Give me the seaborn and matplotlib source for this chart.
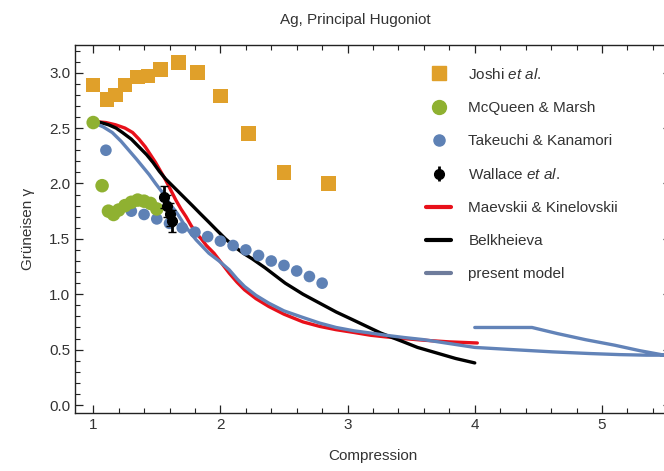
import numpy as np
import pandas as pd
import matplotlib
matplotlib.use("Agg")
import matplotlib.pyplot as plt
import seaborn as sns
from matplotlib.ticker import MultipleLocator, FormatStrFormatter
from matplotlib.lines import Line2D

# ---- data ----
joshi_x = [1.00, 1.11, 1.175, 1.25, 1.35, 1.43, 1.53, 1.67, 1.82, 2.00, 2.22, 2.50, 2.85]
joshi_y = [2.89, 2.76, 2.80, 2.89, 2.96, 2.97, 3.03, 3.09, 3.00, 2.79, 2.45, 2.10, 2.00]

mcq_x = [1.00, 1.07, 1.12, 1.16, 1.20, 1.25, 1.30, 1.35, 1.40, 1.45, 1.50]
mcq_y = [2.55, 1.98, 1.75, 1.72, 1.76, 1.80, 1.83, 1.85, 1.84, 1.82, 1.77]

tak_x = [1.10, 1.20, 1.30, 1.40, 1.50, 1.60, 1.70, 1.80, 1.90, 2.00, 2.10, 2.20, 2.30, 2.40, 2.50, 2.60, 2.70, 2.80]
tak_y = [2.30, 1.76, 1.75, 1.72, 1.68, 1.64, 1.60, 1.56, 1.52, 1.48, 1.44, 1.40, 1.35, 1.30, 1.26, 1.21, 1.16, 1.10]

wal_x = [1.56, 1.58, 1.60, 1.62]
wal_y = [1.88, 1.80, 1.72, 1.66]
wal_err = [0.10, 0.10, 0.10, 0.10]

maev_x = [1.00, 1.10, 1.175, 1.25, 1.31, 1.36, 1.41, 1.45, 1.49, 1.53, 1.57, 1.61, 1.65, 1.69, 1.73,
          1.77, 1.81, 1.85, 1.89, 1.95, 2.01, 2.07, 2.13, 2.19, 2.28, 2.38, 2.50, 2.65, 2.78, 2.91,
          3.05, 3.18, 3.30, 3.44, 3.60, 3.80, 4.02]
maev_y = [2.56, 2.55, 2.53, 2.50, 2.46, 2.40, 2.33, 2.26, 2.19, 2.11, 2.03, 1.94, 1.85, 1.77, 1.70,
          1.62, 1.55, 1.50, 1.44, 1.37, 1.28, 1.19, 1.11, 1.04, 0.96, 0.89, 0.82, 0.75, 0.71, 0.68,
          0.655, 0.63, 0.615, 0.60, 0.585, 0.57, 0.56]

belk_x = [1.00, 1.06, 1.12, 1.18, 1.23, 1.30, 1.36, 1.42, 1.47, 1.52, 1.57, 1.64, 1.71, 1.78, 1.84,
          1.91, 1.97, 2.04, 2.11, 2.18, 2.25, 2.35, 2.51, 2.65, 2.78, 2.91, 3.04, 3.15, 3.26, 3.44,
          3.55, 3.70, 3.85, 4.00]
belk_y = [2.56, 2.55, 2.53, 2.50, 2.46, 2.40, 2.33, 2.26, 2.19, 2.11, 2.04, 1.96, 1.88, 1.80, 1.73,
          1.65, 1.58, 1.50, 1.43, 1.37, 1.32, 1.24, 1.10, 1.00, 0.92, 0.84, 0.77, 0.71, 0.65, 0.57,
          0.52, 0.47, 0.42, 0.38]

model_x = [1.00, 1.08, 1.15, 1.22, 1.28, 1.34, 1.39, 1.44, 1.49, 1.55, 1.60, 1.66, 1.71, 1.76, 1.81,
           1.86, 1.91, 1.99, 2.07, 2.13, 2.19, 2.28, 2.38, 2.50, 2.65, 2.78, 2.91, 3.05, 3.18, 3.30,
           3.44, 3.60, 3.80, 4.00, 4.30, 4.61, 4.90, 5.14, 5.35, 5.49,
           5.30, 5.10, 4.87, 4.65, 4.45, 4.20, 4.00]
model_y = [2.55, 2.51, 2.46, 2.38, 2.30, 2.22, 2.15, 2.08, 2.00, 1.91, 1.82, 1.73, 1.64, 1.56, 1.49,
           1.43, 1.37, 1.30, 1.22, 1.14, 1.07, 0.99, 0.92, 0.85, 0.79, 0.74, 0.70, 0.67, 0.65, 0.63,
           0.61, 0.59, 0.555, 0.52, 0.50, 0.48, 0.465, 0.455, 0.45, 0.45,
           0.49, 0.54, 0.59, 0.645, 0.70, 0.70, 0.70]

labels = ["Joshi $\\mathit{et\\ al.}$", "McQueen & Marsh", "Takeuchi & Kanamori",
          "Wallace $\\mathit{et\\ al.}$", "Maevskii & Kinelovskii", "Belkheieva", "present model"]

# ---- style ----
sns.set_theme(style="white")
plt.rcParams["font.family"] = ["Liberation Sans", "DejaVu Sans"]
plt.rcParams["mathtext.fontset"] = "custom"
plt.rcParams["mathtext.it"] = "Liberation Sans:italic"
plt.rcParams["mathtext.rm"] = "Liberation Sans"

c_orange = "#E0A02A"
c_green = "#8FB131"
c_blue = "#5E81B5"
c_model = "#6283B8"
c_red = "#E8101A"

fig = plt.figure(figsize=(6.64, 4.71), dpi=100)
ax = fig.add_axes([75/664, 1-413/471, (664-75)/664 + 0.01, (413-45)/471])

# curves
sns.lineplot(x=maev_x, y=maev_y, sort=False, estimator=None, color=c_red, lw=2.4, ax=ax, zorder=3)
sns.lineplot(x=belk_x, y=belk_y, sort=False, estimator=None, color="black", lw=2.4, ax=ax, zorder=3)
sns.lineplot(x=model_x, y=model_y, sort=False, estimator=None, color=c_model, lw=2.4, ax=ax, zorder=3)

# points
sns.scatterplot(x=joshi_x, y=joshi_y, marker="s", s=110, color=c_orange, edgecolor="none", ax=ax, zorder=4)
sns.scatterplot(x=tak_x, y=tak_y, marker="o", s=70, color=c_blue, edgecolor="none", ax=ax, zorder=4)
sns.scatterplot(x=mcq_x, y=mcq_y, marker="o", s=95, color=c_green, edgecolor="none", ax=ax, zorder=5)
ax.errorbar(wal_x, wal_y, yerr=wal_err, fmt="o", color="black", ms=7, elinewidth=2, capsize=3, zorder=6)

ax.set_xlim(0.857, 5.54)
ax.set_ylim(-0.072, 3.25)
ax.xaxis.set_major_locator(MultipleLocator(1))
ax.xaxis.set_minor_locator(MultipleLocator(0.2))
ax.yaxis.set_major_locator(MultipleLocator(0.5))
ax.yaxis.set_minor_locator(MultipleLocator(0.1))
ax.yaxis.set_major_formatter(FormatStrFormatter("%.1f"))
ax.tick_params(which="both", direction="in", top=True, right=True, bottom=True, left=True,
               colors="#222222", labelsize=11, labelcolor="#333333")
ax.tick_params(which="major", length=6, width=0.9)
ax.tick_params(which="minor", length=3.5, width=0.8)
for sp in ax.spines.values():
    sp.set_color("#222222")
    sp.set_linewidth(1.0)

ax.set_xlabel("Compression", fontsize=11, color="#333333", labelpad=12)
ax.set_ylabel("Grüneisen γ", fontsize=11, color="#333333", labelpad=10)
fig.text(355/664, 1 - 20/471, "Ag, Principal Hugoniot", ha="center", va="center",
         fontsize=11, color="#333333")

handles = [
    Line2D([], [], marker="s", ls="none", color=c_orange, ms=10),
    Line2D([], [], marker="o", ls="none", color=c_green, ms=10),
    Line2D([], [], marker="o", ls="none", color=c_blue, ms=8),
    ax.errorbar([], [], yerr=[], fmt="o", color="black", ms=7, elinewidth=2, capsize=3),
    Line2D([], [], color=c_red, lw=3),
    Line2D([], [], color="black", lw=3),
    Line2D([], [], color="#6E7C9C", lw=3),
]
ax.legend(handles, labels, loc="upper left", bbox_to_anchor=(0.567, 0.978), frameon=False,
          fontsize=11, labelspacing=1.25, handlelength=1.6, handletextpad=1.15, labelcolor="#333333")

fig.savefig("out.png", dpi=100)
